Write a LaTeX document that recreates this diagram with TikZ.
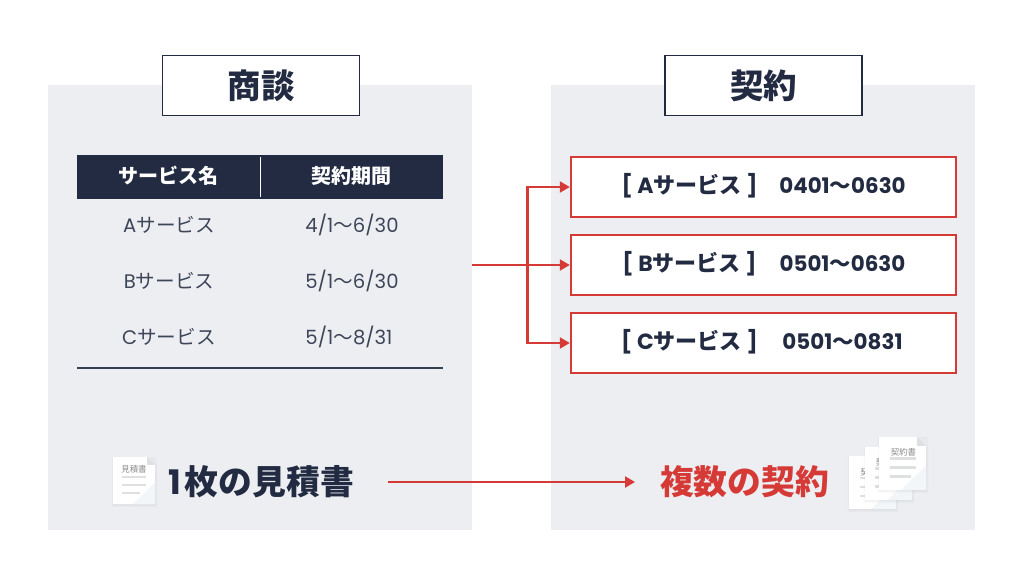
\documentclass[tikz,border=0pt]{standalone}
\usepackage{fontspec}
\setmainfont{Poppins}
\newfontfamily\cjk{Noto Sans CJK JP}
\usetikzlibrary{arrows.meta}
\definecolor{navy}{HTML}{222B42}
\definecolor{panel}{HTML}{ECEEF2}
\definecolor{redc}{HTML}{D63A36}
\definecolor{txt}{HTML}{3E4558}
\definecolor{fold}{HTML}{F3F6F8}
\definecolor{foldc}{HTML}{DDDFE2}
\definecolor{docline}{HTML}{DEDFE1}
\definecolor{doctxt}{HTML}{8A8A8A}
\newcommand{\jp}[1]{{\cjk #1}}
\tikzset{
  x=1pt,y=-1pt,
  panelbox/.style={fill=panel,draw=none},
  headbox/.style={draw=navy,line width=1.8pt,fill=white,minimum width=197pt,minimum height=60pt,inner sep=0pt,text=navy,font=\cjk\bfseries\fontsize{33.5}{36}\selectfont},
  thcell/.style={text=white,inner sep=0pt,font=\cjk\bfseries\fontsize{20}{22}\selectfont},
  tdcell/.style={text=txt,inner sep=0pt,font=\fontsize{19.6}{22}\selectfont},
  svcbox/.style={draw=redc,line width=2.4pt,fill=white,minimum width=385pt,minimum height=60pt,inner sep=0pt},
  svctext/.style={text=navy,inner sep=0pt,font=\bfseries\fontsize{22}{24}\selectfont},
  svcdate/.style={text=navy,inner sep=0pt,font=\bfseries\fontsize{21.4}{24}\selectfont},
  redline/.style={draw=redc,line width=2.2pt},
  redarrow/.style={redline,-{Triangle[length=10pt,width=11pt]}},
  bigtext/.style={inner sep=0pt,font=\cjk\bfseries\fontsize{33.8}{36}\selectfont},
  docline/.style={draw=docline,line width=2.2pt},
  doclabel/.style={text=doctxt,inner sep=0pt,font=\cjk\fontsize{8.4}{10}\selectfont},
}
\newcommand{\docshape}[4]{% x,y top-left; x scale, y scale
  \begin{scope}[shift={(#1,#2)},xscale=#3,yscale=#4]
    \fill[black,opacity=.025] (-1,0) -- (43,0) -- (44,10) -- (44,51) -- (-1,51) -- cycle;
    \fill[black,opacity=.03] (0,1) -- (35,1) -- (43,9) -- (43,49.5) -- (0,49.5) -- cycle;
    \fill[white] (0,0) -- (34,0) -- (42,8) -- (42,48) -- (0,48) -- cycle;
    \fill[fold] (42,26) -- (42,48) -- (20,48) -- cycle;
    \fill[foldc] (34,0) -- (42,8) -- (34,8) -- cycle;
  \end{scope}}
\begin{document}
\begin{tikzpicture}
\useasboundingbox (0,0) rectangle (1024,576);
\fill[white] (0,0) rectangle (1024,576);
\fill[panelbox] (48,85) rectangle (472,530);
\fill[panelbox] (551,85) rectangle (975,530);
\node[headbox] (h1) at (261,85.5) {\raisebox{2.5pt}{商談}};
\node[headbox] (h2) at (763.5,85.5) {\raisebox{2.5pt}{契約}};
% table
\fill[navy] (77,155) rectangle (443,199);
\draw[white,line width=1.2pt] (260.5,157) -- (260.5,197);
\draw[navy!90!panel,line width=2pt] (77,367.5) -- (443,367.5);
\node[thcell] (th1) at (168.5,175.5) {サービス名};
\node[thcell] (th2) at (351.5,175.5) {契約期間};
\node[tdcell] (a1) at (169,225) {A\jp{サービス}};
\node[tdcell] (a2) at (352,225) {4/1\jp{〜}6/30};
\node[tdcell] (b1) at (169,281) {B\jp{サービス}};
\node[tdcell] (b2) at (352,281) {5/1\jp{〜}6/30};
\node[tdcell] (c1) at (169,337) {C\jp{サービス}};
\node[tdcell] (c2) at (349,337) {5/1\jp{〜}8/31};
% service boxes
\node[svcbox] (sa) at (763.5,187) {};
\node[svcbox] (sb) at (763.5,265) {};
\node[svcbox] (sc) at (763.5,343) {};
\node[svctext] (ta) at (689.5,186) {[ A\jp{サービス} ]};
\node[svctext] (tb) at (689.5,264) {[ B\jp{サービス} ]};
\node[svctext] (tc) at (689.5,342) {[ C\jp{サービス} ]};
\node[svcdate] (da) at (842.5,186) {0401\jp{〜}0630};
\node[svcdate] (db) at (842.5,264) {0501\jp{〜}0630};
\node[svcdate] (dc) at (842.5,342) {0501\jp{〜}0831};
% connectors
\coordinate (src) at (472,265);
\coordinate (jn) at (527.5,265);
\draw[redarrow] (src) -- (sb.west);
\draw[redarrow] (jn) |- (sa.west);
\draw[redarrow] (jn) |- (sc.west);
% bottom
\node[bigtext,text=navy] (est) at (261,481.5) {\fontspec{Poppins}\bfseries 1\hspace{4pt}\cjk 枚の見積書};
\node[bigtext,text=redc] (multi) at (744.5,481.5) {複数の契約};
\coordinate (bs) at (388,482);
\coordinate (be) at (635,482);
\draw[redarrow] (bs) -- (be);
% icons
\docshape{113}{457}{1}{.98}
\node[doclabel] (ic1) at (134,469.5) {見積書};
\draw[docline] (122,477) -- (146,477);
\draw[docline] (122,485) -- (146,485);
\draw[docline] (122,493) -- (140,493);
\docshape{849}{456}{1.12}{1.1}
\node[doclabel] (ic2a) at (873,472) {契約書};
\draw[docline] (860,478) -- (886,478);
\draw[docline] (860,487) -- (886,487);
\draw[docline] (860,496) -- (881,496);
\docshape{865}{447}{1.12}{1.1}
\node[doclabel] (ic2b) at (888.5,462) {契約書};
\draw[docline] (875,468.5) -- (901,468.5);
\draw[docline] (875,477.5) -- (901,477.5);
\draw[docline] (875,486.5) -- (896,486.5);
\docshape{879}{437}{1.12}{1.1}
\node[doclabel] (ic3) at (903.5,452) {契約書};
\draw[docline] (890,458.5) -- (916,458.5);
\draw[docline] (890,467.5) -- (916,467.5);
\draw[docline] (890,476.5) -- (911,476.5);
\end{tikzpicture}
\end{document}
